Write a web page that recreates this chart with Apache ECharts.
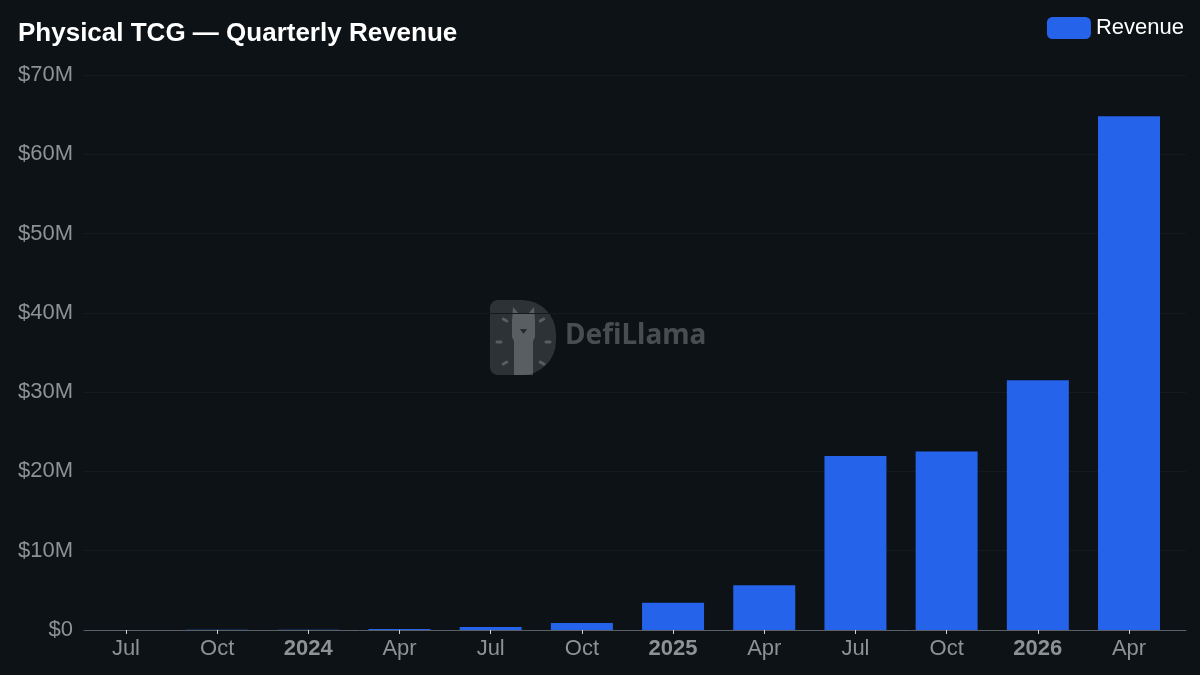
<!DOCTYPE html>
<html>
<head>
<meta charset="utf-8">
<script src="https://cdn.jsdelivr.net/npm/echarts@6/dist/echarts.min.js"></script>
<style>
html,body{margin:0;padding:0;background:#0c1215;}
#chart{width:1200px;height:675px;}
</style>
</head>
<body>
<div id="chart"></div>
<script>
// Data
const quarters = ['2023-07','2023-10','2024-01','2024-04','2024-07','2024-10','2025-01','2025-04','2025-07','2025-10','2026-01','2026-04'];
const tickLabels = ['Jul','Oct','2024','Apr','Jul','Oct','2025','Apr','Jul','Oct','2026','Apr'];
const revenue = [10000, 20000, 30000, 130000, 380000, 880000, 3450000, 5650000, 21950000, 22500000, 31500000, 64800000];
const yTicks = [0, 10000000, 20000000, 30000000, 40000000, 50000000, 60000000, 70000000];

const quarterIndex = quarters.map((q, i) => i);
const seriesData = quarters.map((q, i) => [i, revenue[i]]);

const chart = echarts.init(document.getElementById('chart'), null, {renderer:'canvas'});
const font = '"Liberation Sans", Arial, Helvetica, sans-serif';
const wmFill = 'rgba(120,125,130,0.30)';
const wmLight = 'rgba(150,155,160,0.42)';

function dash(cx, cy, angle) {
  return {type:'rect', x: cx, y: cy, originX: 0, originY: 0, rotation: angle,
          shape:{x:-3.5, y:-1.5, width:7, height:3, r:1.5}, style:{fill:wmLight}};
}

chart.setOption({
  backgroundColor: '#0c1215',
  animation: false,
  title: {
    text: 'Physical TCG — Quarterly Revenue',
    left: 13, top: 16,
    textStyle: {color:'#ffffff', fontSize: 26, fontWeight:'bold', fontFamily: font}
  },
  legend: {
    right: 11, top: 12,
    itemWidth: 44, itemHeight: 22,
    itemGap: 6,
    textStyle: {color:'#ffffff', fontSize: 22, fontFamily: font},
    data: [{name:'Revenue', icon:'roundRect'}]
  },
  graphic: [
    {
      type: 'group', x: 490, y: 300, silent: true,
      children: [
        {type:'rect', shape:{x:0, y:0, width:66, height:75, r:[8,34,34,8]}, style:{fill:wmFill}},
        {type:'polygon', shape:{points:[[22,21],[23,7],[29,14],[38,14],[44,7],[45,21],[45,37],[43,41],[43,75],[24,75],[24,41],[22,37]]}, style:{fill:wmLight}},
        {type:'polygon', shape:{points:[[30,29],[37,29],[33.5,34]]}, style:{fill:'rgba(20,25,30,0.75)'}},
        dash(15, 20, -0.5),
        dash(9, 42, 0),
        dash(15, 63, 0.5),
        dash(52, 20, 0.5),
        dash(58, 42, 0),
        dash(52, 63, -0.5),
        {type:'text', style:{x:75, y:22, text:'DefiLlama', fill:'rgba(120,125,130,0.55)', font:'bold 28px "Noto Sans", sans-serif'}}
      ]
    }
  ],
  grid: {left: 84, right: 14, top: 75, bottom: 45, containLabel: false},
  xAxis: {
    type: 'value',
    min: -0.46, max: 11.625,
    axisLine: {show:true, onZero:false, lineStyle: {color:'#5a6066', width:1}},
    axisTick: {show:true, customValues: quarterIndex, length:4, lineStyle:{color:'#d0d4d8', width:1}},
    axisLabel: {
      customValues: quarterIndex,
      color:'#8d9296', fontSize: 22, fontFamily: font, margin: 8,
      formatter: function(v){ const t = tickLabels[Math.round(v)]; return /^\d{4}$/.test(t) ? '{b|'+t+'}' : t; },
      rich: {b:{fontWeight:'bold', color:'#8d9296', fontSize:22, fontFamily: font}}
    },
    splitLine: {show:false}
  },
  yAxis: {
    type: 'value',
    min: yTicks[0], max: yTicks[yTicks.length-1], interval: 10000000,
    axisLine: {show:false},
    axisTick: {show:false},
    axisLabel: {
      color:'#8d9296', fontSize: 22, fontFamily: font, margin: 11,
      formatter: function(v){ return v === 0 ? '$0' : '$' + (v/1e6) + 'M'; }
    },
    splitLine: {lineStyle: {color:'#141b1f', width:1}}
  },
  series: [{
    name: 'Revenue',
    type: 'bar',
    data: seriesData,
    barWidth: 62,
    itemStyle: {color:'#2563eb'}
  }]
});
</script>
</body>
</html>
